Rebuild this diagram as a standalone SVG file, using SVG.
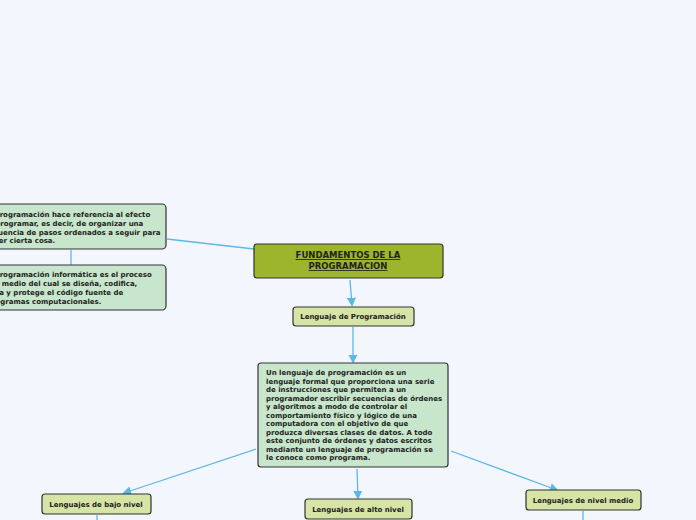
<svg xmlns="http://www.w3.org/2000/svg" width="696" height="520" viewBox="0 0 696 520">
<style>
.b{fill:#c8e6cc;stroke:#333;stroke-width:1.2}
.t{font-family:Verdana,"DejaVu Sans",sans-serif;font-weight:bold;font-size:7px;fill:#222}
.c{stroke:#5bb8e6;stroke-width:1.3;fill:none}
.s{fill:#d6e4a6;stroke:#333;stroke-width:1.2}
</style>
<defs><marker id="a" viewBox="0 0 10 10" refX="8" refY="5" markerWidth="7" markerHeight="7" orient="auto"><path d="M0,0L10,5L0,10z" fill="#5bb8e6"/></marker></defs>
<rect width="696" height="520" fill="#f4f6fe"/>
<g id="connectors">
<path class="c" d="M167,239L254,249"/>
<path class="c" d="M71,250V265"/>
<path class="c" d="M350,280L352,305" marker-end="url(#a)"/>
<path class="c" d="M353,327V362" marker-end="url(#a)"/>
<path class="c" d="M256,449L124,493" marker-end="url(#a)"/>
<path class="c" d="M357,469L358,498" marker-end="url(#a)"/>
<path class="c" d="M451,451L557,490" marker-end="url(#a)"/>
<path class="c" d="M97,515V520"/>
<path class="c" d="M583,511V520"/>
</g>
<g id="n1"><rect class="b" x="-100" y="204" width="266" height="45" rx="4"/>
<text class="t"><tspan x="-17" y="217">La programación hace referencia al efecto</tspan><tspan x="-17" y="226">de programar, es decir, de organizar una</tspan><tspan x="-15" y="235">secuencia de pasos ordenados a seguir para</tspan><tspan x="-15" y="243">hacer cierta cosa.</tspan></text></g>
<g id="n2"><rect class="b" x="-100" y="265" width="266" height="45" rx="4"/>
<text class="t"><tspan x="-17" y="277">La programación informática es el proceso</tspan><tspan x="-14" y="286">por medio del cual se diseña, codifica,</tspan><tspan x="-24" y="295">depura y protege el código fuente de</tspan><tspan x="-13" y="304">programas computacionales.</tspan></text></g>
<g id="root"><rect x="254" y="244" width="189" height="34" rx="3" fill="#9cb52c" stroke="#333" stroke-width="1.2"/>
<text class="t" font-size="8.5" text-anchor="middle" text-decoration="underline"><tspan x="348" y="258" style="font-size:8.5px">FUNDAMENTOS DE LA</tspan><tspan x="348" y="269" style="font-size:8.5px">PROGRAMACION</tspan></text></g>
<g id="lp"><rect class="s" x="293" y="307" width="121" height="19" rx="3"/><text class="t" x="353" y="319" text-anchor="middle">Lenguaje de Programación</text></g>
<g id="def"><rect class="b" x="258" y="363" width="190" height="104" rx="3"/>
<text class="t"><tspan x="266" y="375">Un lenguaje de programación es un</tspan><tspan x="266" y="384">lenguaje formal que proporciona una serie</tspan><tspan x="266" y="392">de instrucciones que permiten a un</tspan><tspan x="266" y="401">programador escribir secuencias de órdenes</tspan><tspan x="266" y="409">y algoritmos a modo de controlar el</tspan><tspan x="266" y="418">comportamiento físico y lógico de una</tspan><tspan x="266" y="426">computadora con el objetivo de que</tspan><tspan x="266" y="435">produzca diversas clases de datos. A todo</tspan><tspan x="266" y="443">este conjunto de órdenes y datos escritos</tspan><tspan x="266" y="452">mediante un lenguaje de programación se</tspan><tspan x="266" y="460">le conoce como programa.</tspan></text></g>
<g id="bajo"><rect class="s" x="42" y="494" width="109" height="20" rx="3"/><text class="t" x="96" y="507" text-anchor="middle">Lenguajes de bajo nivel</text></g>
<g id="alto"><rect class="s" x="305" y="499" width="107" height="20" rx="3"/><text class="t" x="358" y="512" text-anchor="middle">Lenguajes de alto nivel</text></g>
<g id="medio"><rect class="s" x="526" y="490" width="115" height="20" rx="3"/><text class="t" x="583" y="503" text-anchor="middle">Lenguajes de nivel medio</text></g>
</svg>
